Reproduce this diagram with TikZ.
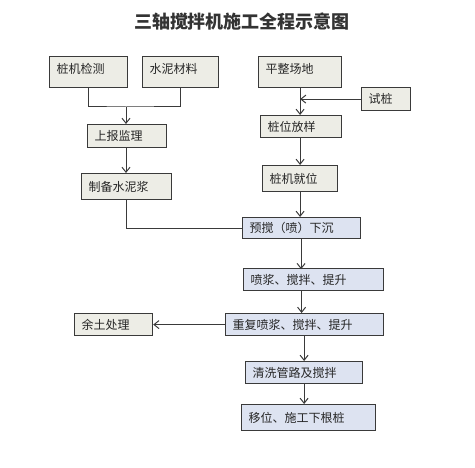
\documentclass[tikz,border=0pt]{standalone}
\usepackage{fontspec}
\newfontfamily\cjk{Noto Sans CJK SC}
\usetikzlibrary{arrows.meta, positioning}
\definecolor{boxgrey}{HTML}{EDEDE6}
\definecolor{boxblue}{HTML}{DDE3F1}
\definecolor{linegrey}{HTML}{3A3A3A}

\begin{document}
\begin{tikzpicture}[x=1pt,y=-1pt,
	every node/.style={draw=linegrey,line width=1.2pt,inner xsep=7pt,inner ysep=0pt,anchor=north west,align=left,text=black!85,font=\cjk\fontsize{12}{14}\selectfont},
	greybox/.style={fill=boxgrey},
	bluebox/.style={fill=boxblue},
	line/.style={draw=linegrey,line width=1pt},
	arr/.style={line,-{Straight Barb[length=5pt,width=8pt]}}]
							\useasboundingbox[fill=white] (0,0) rectangle (475,468);
							\node[draw=none,anchor=center,text=black!80,font=\cjk\bfseries\fontsize{18}{20}\selectfont] (title) at (242,22) {三轴搅拌机施工全程示意图};
							\node[greybox,text width=64pt,minimum height=31pt,text depth=8pt] (jc) at (49,56) {桩机检测};
							\node[greybox,text width=62pt,minimum height=31pt,text depth=8pt] (sn) at (142,56) {水泥材料};
							\node[greybox,text width=69pt,minimum height=31pt,text depth=8pt] (pz) at (258,56) {平整场地};
							\node[greybox,text width=35pt,minimum height=23pt] (sz) at (361,87) {试桩};
							\node[greybox,text width=65pt,minimum height=23pt] (sb) at (87,124) {上报监理};
							\node[greybox,text width=67pt,minimum height=22pt] (fy) at (260,115) {桩位放样};
							\node[greybox,text width=76pt,minimum height=26pt] (zb) at (81,173) {制备水泥浆};
							\node[greybox,text width=61pt,minimum height=26pt] (jw) at (262,165) {桩机就位};
							\node[bluebox,text width=104pt,minimum height=21pt] (yj) at (242,217) {预搅（喷）下沉};
							\node[bluebox,text width=126pt,minimum height=22pt] (pj) at (243,268) {喷浆、搅拌、提升};
							\node[bluebox,text width=144pt,minimum height=22pt] (cf) at (225,313) {重复喷浆、搅拌、提升};
							\node[greybox,text width=64pt,minimum height=22pt] (yt) at (74,313) {余土处理};
							\node[bluebox,text width=103pt,minimum height=22pt] (qx) at (245,361) {清洗管路及搅拌};
							\node[bluebox,text width=120pt,minimum height=26pt] (yw) at (241,404) {移位、施工下根桩};
							\coordinate (join) at (126,107);
							\draw[line] (jc.south) |- (join) -| (sn.south);
							\draw[arr] (join) -- (join |- sb.north);
							\draw[arr] (sb.south -| join) -- (join |- zb.north);
							\draw[line] (zb.south -| join) |- (yj.west);
							\draw[arr] (pz.south) -- (pz.south |- fy.north);
							\draw[arr] (sz.west) -- (sz.west -| pz.south);
							\draw[arr] (fy.south -| pz.south) -- (pz.south |- jw.north);
							\draw[arr] (jw.south -| pz.south) -- (pz.south |- yj.north);
							\draw[arr] (yj.south -| pz.south) ++(1,0) -- ++(0,30);
							\draw[arr] (pj.south -| yj.south) -- (yj.south |- cf.north);
							\draw[arr] (cf.west) -- (yt.east);
							\draw[arr] (cf.south -| qx.north) -- (qx.north);
							\draw[arr] (qx.south) -- (qx.south |- yw.north);
\end{tikzpicture}
\end{document}
